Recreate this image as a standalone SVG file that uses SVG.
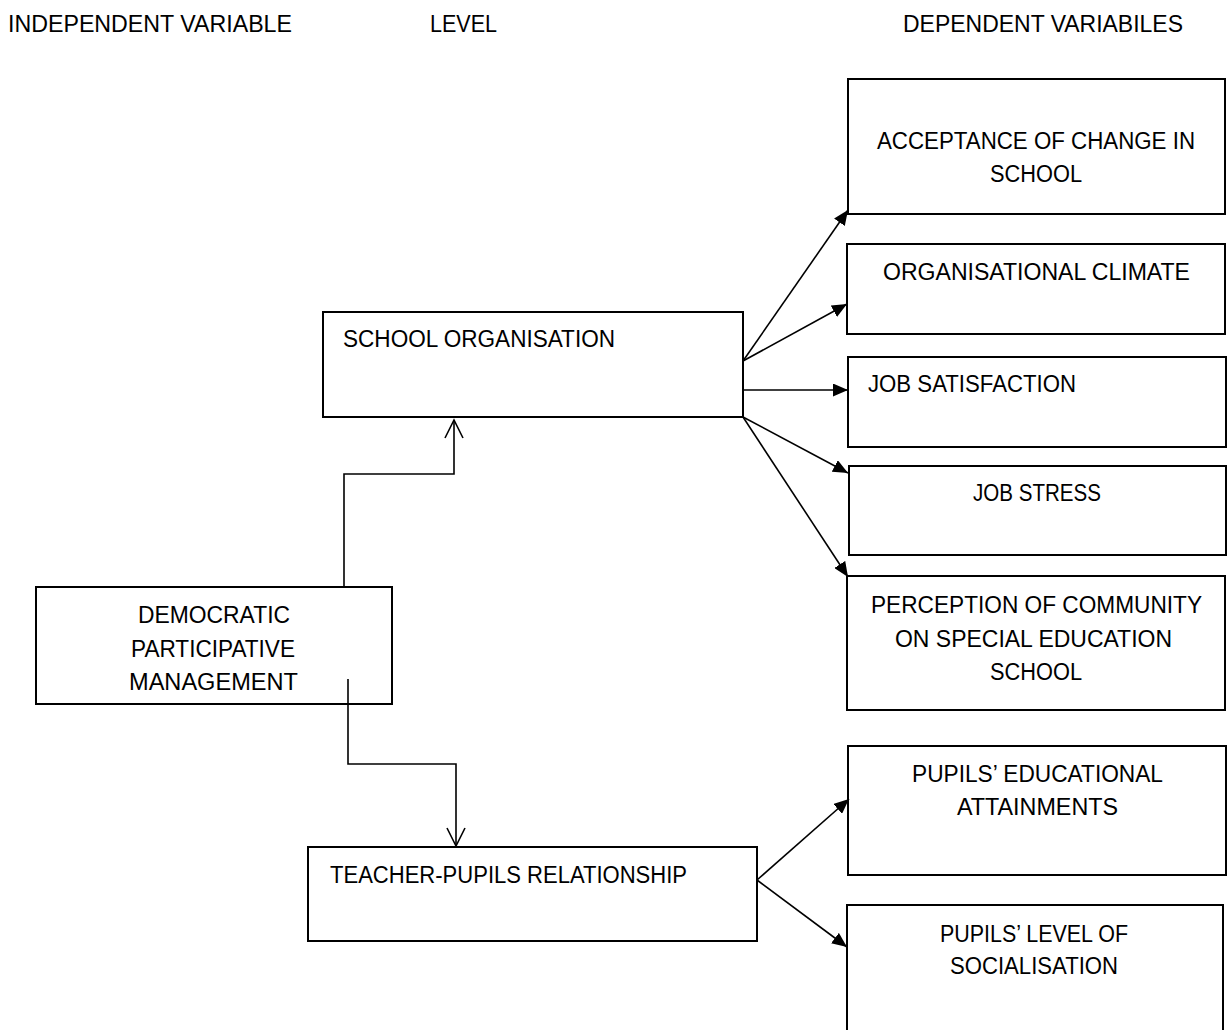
<svg xmlns="http://www.w3.org/2000/svg" width="1227" height="1030" viewBox="0 0 1227 1030">
<style>
text{font-family:"Liberation Sans",Arial,sans-serif;font-size:23.5px;fill:#000}
.box{fill:#fff;stroke:#000;stroke-width:2}
.c{fill:none;stroke:#000;stroke-width:1.6}
.solid{marker-end:url(#ah)}
</style>
<defs>
<marker id="ah" markerUnits="userSpaceOnUse" markerWidth="16" markerHeight="13" refX="15" refY="6.5" orient="auto">
<path d="M0,0 L15,6.5 L0,13 Z" fill="#000"/>
</marker>
</defs>
<rect width="1227" height="1030" fill="#fff"/>
<g id="headers">
<text x="8" y="32" textLength="284" lengthAdjust="spacingAndGlyphs">INDEPENDENT VARIABLE</text>
<text x="430" y="32" textLength="67" lengthAdjust="spacingAndGlyphs">LEVEL</text>
<text x="903" y="32" textLength="280" lengthAdjust="spacingAndGlyphs">DEPENDENT VARIABILES</text>
</g>
<g id="democratic">
<rect class="box" x="36" y="587" width="356" height="117"/>
<text x="138" y="623" textLength="152" lengthAdjust="spacingAndGlyphs">DEMOCRATIC</text>
<text x="131" y="657" textLength="164" lengthAdjust="spacingAndGlyphs">PARTICIPATIVE</text>
<text x="129" y="690" textLength="169" lengthAdjust="spacingAndGlyphs">MANAGEMENT</text>
</g>
<g id="school-organisation">
<rect class="box" x="323" y="312" width="420" height="105"/>
<text x="343" y="347" textLength="272" lengthAdjust="spacingAndGlyphs">SCHOOL ORGANISATION</text>
</g>
<g id="teacher-pupils">
<rect class="box" x="308" y="847" width="449" height="94"/>
<text x="330" y="883" textLength="357" lengthAdjust="spacingAndGlyphs">TEACHER-PUPILS RELATIONSHIP</text>
</g>
<g id="acceptance">
<rect class="box" x="848" y="79" width="377" height="135"/>
<text x="877" y="149" textLength="318" lengthAdjust="spacingAndGlyphs">ACCEPTANCE OF CHANGE IN</text>
<text x="990" y="182" textLength="92" lengthAdjust="spacingAndGlyphs">SCHOOL</text>
</g>
<g id="climate">
<rect class="box" x="847" y="244" width="378" height="90"/>
<text x="883" y="280" textLength="307" lengthAdjust="spacingAndGlyphs">ORGANISATIONAL CLIMATE</text>
</g>
<g id="satisfaction">
<rect class="box" x="848" y="357" width="378" height="90"/>
<text x="868" y="392" textLength="208" lengthAdjust="spacingAndGlyphs">JOB SATISFACTION</text>
</g>
<g id="stress">
<rect class="box" x="849" y="466" width="377" height="89"/>
<text x="973" y="501" textLength="128" lengthAdjust="spacingAndGlyphs">JOB STRESS</text>
</g>
<g id="perception">
<rect class="box" x="847" y="576" width="378" height="134"/>
<text x="871" y="613" textLength="331" lengthAdjust="spacingAndGlyphs">PERCEPTION OF COMMUNITY</text>
<text x="895" y="647" textLength="277" lengthAdjust="spacingAndGlyphs">ON SPECIAL EDUCATION</text>
<text x="990" y="680" textLength="92" lengthAdjust="spacingAndGlyphs">SCHOOL</text>
</g>
<g id="attainments">
<rect class="box" x="848" y="746" width="378" height="129"/>
<text x="912" y="782" textLength="251" lengthAdjust="spacingAndGlyphs">PUPILS’ EDUCATIONAL</text>
<text x="957" y="815" textLength="161" lengthAdjust="spacingAndGlyphs">ATTAINMENTS</text>
</g>
<g id="socialisation">
<rect class="box" x="847" y="905" width="376" height="140"/>
<text x="940" y="942" textLength="188" lengthAdjust="spacingAndGlyphs">PUPILS’ LEVEL OF</text>
<text x="950" y="974" textLength="168" lengthAdjust="spacingAndGlyphs">SOCIALISATION</text>
</g>
<g id="connectors">
<path class="c" d="M344,587 V474 H454 V421"/>
<path class="c" d="M445,438 L454,420 L463,438"/>
<path class="c" d="M348,679 V764 H456 V845"/>
<path class="c" d="M447,828 L456,846 L465,828"/>
<line class="c solid" x1="743" y1="361" x2="848" y2="210"/>
<line class="c solid" x1="743" y1="361" x2="847" y2="304"/>
<line class="c solid" x1="743" y1="390" x2="848" y2="390"/>
<line class="c solid" x1="743" y1="417" x2="848" y2="473"/>
<line class="c solid" x1="743" y1="417" x2="848" y2="577"/>
<line class="c solid" x1="757" y1="880" x2="849" y2="799"/>
<line class="c solid" x1="757" y1="880" x2="847" y2="947"/>
</g>
</svg>
